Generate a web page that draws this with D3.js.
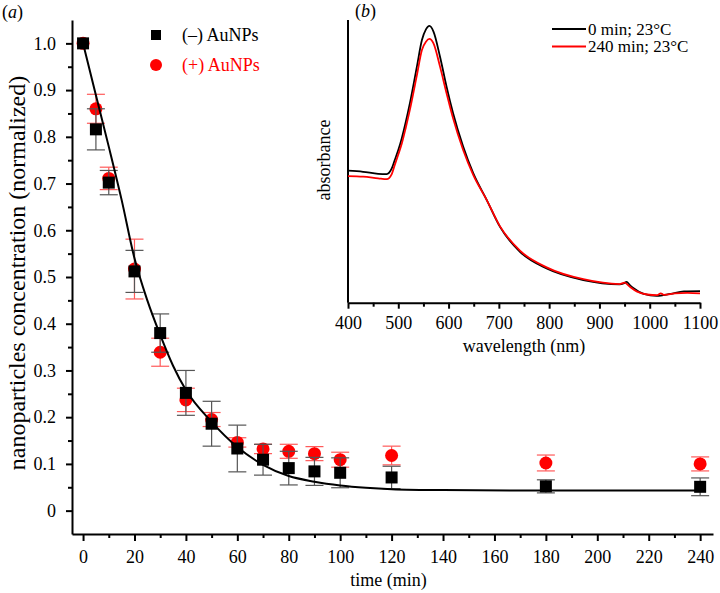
<!DOCTYPE html>
<html>
<head>
<meta charset="utf-8">
<script src="https://cdn.jsdelivr.net/npm/d3@7"></script>
<style>
  body { margin: 0; background: #fff; }
  text { font-family: "Liberation Serif", "DejaVu Serif", serif; }
</style>
</head>
<body>
<script>
// main panel (a): normalized concentration vs time
const times = [0, 5, 10, 20, 30, 40, 50, 60, 70, 80, 90, 100, 120, 180, 240];
const minusMean = [1.0, 0.816, 0.702, 0.512, 0.380, 0.252, 0.186, 0.133, 0.109, 0.091, 0.084, 0.081, 0.071, 0.052, 0.051];
const minusErr = [0, 0.044, 0.026, 0.045, 0.041, 0.048, 0.048, 0.050, 0.033, 0.036, 0.030, 0.032, 0.024, 0.014, 0.019];
const plusMean = [1.0, 0.860, 0.711, 0.517, 0.339, 0.237, 0.195, 0.146, 0.132, 0.127, 0.122, 0.109, 0.118, 0.102, 0.100];
const plusErr = [0, 0.031, 0.024, 0.064, 0.030, 0.025, 0.015, 0.010, 0.010, 0.015, 0.015, 0.016, 0.020, 0.017, 0.015];

// fitted decay curve
const fitT = [0, 5, 10, 15, 20, 25, 30, 35, 40, 50, 60, 70, 80, 90, 100, 110, 120, 140, 180, 240];
const fitY = [1.0, 0.889, 0.779, 0.665, 0.54, 0.45, 0.376, 0.31, 0.258, 0.19, 0.136, 0.098, 0.074, 0.062, 0.054, 0.049, 0.046, 0.044, 0.043, 0.043];

const timeTicks = [0, 20, 40, 60, 80, 100, 120, 140, 160, 180, 200, 220, 240];
const concTicks = [0, 0.1, 0.2, 0.3, 0.4, 0.5, 0.6, 0.7, 0.8, 0.9, 1.0];

// inset panel (b): absorbance spectra
const wlBlack = [400, 430, 460, 477, 487, 493, 500, 507, 515, 523, 537, 547, 555, 562, 570, 583, 596, 609, 629, 649, 676, 702, 742, 795, 868, 940, 948, 954, 960, 968, 988, 1014, 1041, 1068, 1100];
const absBlack = [0.467, 0.463, 0.456, 0.455, 0.475, 0.505, 0.540, 0.582, 0.640, 0.705, 0.835, 0.929, 0.967, 0.979, 0.959, 0.870, 0.764, 0.670, 0.552, 0.458, 0.363, 0.269, 0.180, 0.121, 0.080, 0.065, 0.068, 0.074, 0.063, 0.051, 0.031, 0.024, 0.031, 0.040, 0.041];
const wlRed = [400, 430, 460, 477, 487, 493, 500, 507, 515, 523, 537, 547, 555, 562, 570, 583, 596, 609, 629, 649, 676, 702, 742, 795, 868, 940, 950, 960, 975, 995, 1015, 1022, 1028, 1050, 1075, 1100];
const absRed = [0.448, 0.446, 0.440, 0.437, 0.455, 0.487, 0.524, 0.563, 0.620, 0.682, 0.805, 0.894, 0.923, 0.933, 0.917, 0.835, 0.741, 0.652, 0.540, 0.452, 0.363, 0.271, 0.184, 0.125, 0.083, 0.066, 0.071, 0.057, 0.039, 0.029, 0.027, 0.033, 0.028, 0.033, 0.035, 0.033];
const wlTicks = [400, 500, 600, 700, 800, 900, 1000, 1100];

const seriesNames = ["(\u2013) AuNPs", "(+) AuNPs"];
const specNames = ["0 min; 23\u00b0C", "240 min; 23\u00b0C"];

let width = 720, height = 593;
const serif = "Liberation Serif";

let svg = d3.select("body")
    .append("svg")
    .attr("width", width)
    .attr("height", height);

// ---------- panel (a) ----------
let x = d3.scaleLinear().domain([-4.3, 245]).range([72, 713]);
let y = d3.scaleLinear().domain([-0.05, 1.05]).range([534, 20]);

// minor ticks first, then major ones on top
svg.append("g")
    .attr("transform", "translate(0,534)")
    .call(d3.axisBottom(x).tickValues(d3.range(10, 241, 20)).tickSize(4).tickFormat(""))
    .call(g => g.select(".domain").remove());
svg.append("g")
    .attr("transform", "translate(72,0)")
    .call(d3.axisLeft(y).tickValues(d3.range(0.05, 1.0, 0.1)).tickSize(4).tickFormat(""))
    .call(g => g.select(".domain").remove());

let xAxis = svg.append("g")
    .attr("transform", "translate(0,534)")
    .call(d3.axisBottom(x).tickValues(timeTicks).tickSize(7).tickPadding(9).tickSizeOuter(0));
let yAxis = svg.append("g")
    .attr("transform", "translate(72,0)")
    .call(d3.axisLeft(y).tickValues(concTicks).tickSize(6).tickPadding(10).tickSizeOuter(0)
        .tickFormat(d => d === 0 ? "0" : d3.format(".1f")(d)));

[xAxis, yAxis].forEach(a => {
    a.attr("font-family", serif).attr("font-size", 18);
    a.select(".domain").attr("stroke-width", 2);
    a.selectAll("text").attr("fill", "#000");
});

// axis labels
svg.append("text")
    .attr("transform", `translate(${(72 + 713) / 2 - 4}, 586)`)
    .style("text-anchor", "middle")
    .style("font-size", "18px")
    .text("time (min)");

svg.append("text")
    .attr("transform", `translate(25, 273) rotate(-90)`)
    .style("text-anchor", "middle")
    .style("font-size", "24px")
    .text("nanoparticles concentration (normalized)");

svg.append("text")
    .attr("x", 2).attr("y", 18)
    .style("font-size", "18px")
    .html("(<tspan font-style='italic'>a</tspan>)");

let plusData = times.map((t, i) => ({ t: t, v: plusMean[i], e: plusErr[i] }));
let minusData = times.map((t, i) => ({ t: t, v: minusMean[i], e: minusErr[i] }));

function errorBars(data, color) {
    let g = svg.append("g").attr("stroke", color).attr("stroke-width", 1.2).attr("fill", "none");
    data.filter(d => d.e > 0).forEach(d => {
        g.append("line").attr("x1", x(d.t)).attr("x2", x(d.t)).attr("y1", y(d.v - d.e)).attr("y2", y(d.v + d.e));
        [d.v - d.e, d.v + d.e].forEach(v => {
            g.append("line").attr("x1", x(d.t) - 9).attr("x2", x(d.t) + 9).attr("y1", y(v)).attr("y2", y(v));
        });
    });
}

errorBars(plusData, "#ff5a5a");
svg.append("g").selectAll("circle")
    .data(plusData)
    .join("circle")
    .attr("cx", d => x(d.t))
    .attr("cy", d => y(d.v))
    .attr("r", 6.5)
    .attr("fill", "#ff0000");

errorBars(minusData, "#555");
svg.append("g").selectAll("rect")
    .data(minusData)
    .join("rect")
    .attr("x", d => x(d.t) - 6)
    .attr("y", d => y(d.v) - 6)
    .attr("width", 12)
    .attr("height", 12)
    .attr("fill", "#000");

svg.append("path")
    .datum(fitT.map((t, i) => [t, fitY[i]]))
    .attr("fill", "none")
    .attr("stroke", "#000")
    .attr("stroke-width", 2)
    .attr("d", d3.line().x(d => x(d[0])).y(d => y(d[1])).curve(d3.curveMonotoneX));

// legend (a)
svg.append("rect").attr("x", 151).attr("y", 30).attr("width", 10).attr("height", 10).attr("fill", "#000");
svg.append("circle").attr("cx", 156).attr("cy", 65).attr("r", 6).attr("fill", "#ff0000");
svg.append("text").attr("x", 182).attr("y", 41).style("font-size", "18px").text(seriesNames[0]);
svg.append("text").attr("x", 182).attr("y", 71).style("font-size", "18px").attr("fill", "#ff0000").text(seriesNames[1]);

// ---------- panel (b) inset ----------
let xb = d3.scaleLinear().domain([400, 1100]).range([348, 700]);
let yb = d3.scaleLinear().domain([0, 1]).range([302.7, 20]);

svg.append("g")
    .attr("transform", "translate(0,302.7)")
    .call(d3.axisBottom(xb).tickValues(d3.range(450, 1100, 100)).tickSize(4).tickFormat(""))
    .call(g => g.select(".domain").remove());
let xbAxis = svg.append("g")
    .attr("transform", "translate(0,302.7)")
    .call(d3.axisBottom(xb).tickValues(wlTicks).tickSize(6).tickPadding(8).tickSizeOuter(0)
        .tickFormat(d3.format("d")));
xbAxis.attr("font-family", serif).attr("font-size", 18);
xbAxis.select(".domain").attr("stroke-width", 2);
xbAxis.selectAll("text").attr("fill", "#000");
svg.selectAll(".tick line").attr("stroke", "#000").attr("stroke-width", 2);

svg.append("line")
    .attr("x1", 348).attr("x2", 348)
    .attr("y1", 20).attr("y2", 302.7)
    .attr("stroke", "#000").attr("stroke-width", 2);

svg.append("text")
    .attr("transform", `translate(524, 352)`)
    .style("text-anchor", "middle")
    .style("font-size", "18px")
    .text("wavelength (nm)");

svg.append("text")
    .attr("transform", `translate(330, 160) rotate(-90)`)
    .style("text-anchor", "middle")
    .style("font-size", "18px")
    .text("absorbance");

svg.append("text")
    .attr("x", 355).attr("y", 17)
    .style("font-size", "18px")
    .html("(<tspan font-style='italic'>b</tspan>)");

let specLine = d3.line().x(d => xb(d[0])).y(d => yb(d[1])).curve(d3.curveMonotoneX);

svg.append("path")
    .datum(wlBlack.map((w, i) => [w, absBlack[i]]))
    .attr("fill", "none").attr("stroke", "#000").attr("stroke-width", 1.8)
    .attr("d", specLine);
svg.append("path")
    .datum(wlRed.map((w, i) => [w, absRed[i]]))
    .attr("fill", "none").attr("stroke", "#ff0000").attr("stroke-width", 1.8)
    .attr("d", specLine);

// legend (b)
svg.append("line").attr("x1", 552).attr("x2", 586).attr("y1", 29).attr("y2", 29).attr("stroke", "#000").attr("stroke-width", 2);
svg.append("line").attr("x1", 552).attr("x2", 586).attr("y1", 46.5).attr("y2", 46.5).attr("stroke", "#ff0000").attr("stroke-width", 2);
svg.append("text").attr("x", 588).attr("y", 34.5).style("font-size", "17px").text(specNames[0]);
svg.append("text").attr("x", 588).attr("y", 52).style("font-size", "17px").text(specNames[1]);
</script>
</body>
</html>
